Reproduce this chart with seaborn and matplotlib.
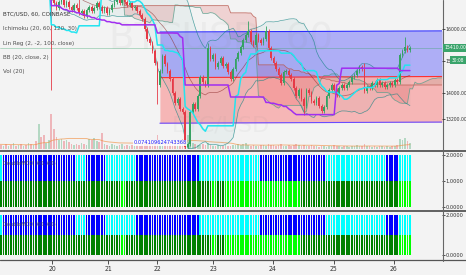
import numpy as np
import pandas as pd
import matplotlib
matplotlib.use("Agg")
import matplotlib.pyplot as plt
import matplotlib.transforms as mtransforms
from matplotlib.lines import Line2D
from matplotlib import font_manager as fm
from matplotlib.textpath import TextPath
import seaborn as sns

# ---------------- data (hourly BTC/USD, Coinbase) ----------------
# hidden history before the visible window (needed by the indicators)
close_pre = [19000, 19200, 19100, 19300, 19150, 18950, 19050, 18900, 18800, 18950,
             18700, 18850, 18600, 18750, 18550, 18650, 18400, 18550, 18300, 18450,
             18250, 18400, 18150, 18300, 18100, 18250, 18050, 18200, 17950, 18100,
             17900, 18050, 17850, 18000, 17800, 17950, 17850, 18000, 17900, 18050]
vol_pre = [5, 4, 6, 5, 4, 5, 6, 4, 5, 5, 4, 6, 5, 4, 5, 4, 5, 6, 4, 5,
           5, 4, 5, 6, 4, 5, 4, 5, 5, 4, 6, 5, 4, 5, 4, 5, 4, 5, 4, 4]

close_19 = [17900, 18100, 17800, 17950, 17700, 17850, 17600, 17750, 17500, 17650,
            17400, 17600, 17350, 17500, 17250, 17400, 17300, 17150, 17250, 17300]
close_20 = [16900, 16800, 16650, 16850, 16950, 16750, 16850, 16700, 16600, 16750,
            16650, 16500, 16550, 16400, 16600, 16700, 16550, 16650, 16800, 16700,
            16550, 16650, 16500, 16600, 16750, 16850, 16950, 16800, 16900, 16850,
            16750, 16800, 16650, 16700, 16550, 16450]
close_21 = [16300, 16000, 15700, 15550, 15300, 14950, 14250, 14700, 15150, 14900,
            14700, 14450, 14000, 13700, 13800, 13500, 13400]
close_22 = [12300, 12400, 13400, 13650, 13500, 13900, 14500, 14350, 14250, 15400,
            15050, 15200, 14800, 14950, 15100, 14850, 14900, 14650, 14450, 14750,
            15050, 15250, 15450, 15650, 15800, 15950, 15600]
close_23 = [15500, 15800, 15650, 15550, 15700, 15950, 15400, 15100, 14950, 14750,
            14550, 14300, 14650, 14700, 14550, 14450, 14150, 13900, 14100, 13800,
            13600, 14100, 14000, 13750, 13700, 13850, 13600, 13450, 13550, 13900]
close_24 = [14100, 14250, 14100, 13950, 14150, 14250, 14150, 14250, 14350, 14500,
            14550, 14700, 14800, 14750, 14050, 14200, 14150, 14300, 14250, 14400,
            14250, 14300, 14200, 14250, 14300, 14250, 14400, 14350, 15200, 15300,
            15450, 15350, 15410]
wick = 60
high_override = {31: 18100, 45: 17350, 82: 15550, 98: 16250, 105: 16100, 144: 14950, 160: 15750}
low_override = {20: 14100, 62: 13650, 73: 10400, 120: 13300}

volume = [4, 3, 5, 3, 4, 6, 3, 4, 5, 3, 4, 6, 5, 4, 8,
          25, 12, 14, 6, 9,
          35, 20, 12, 9, 10, 8, 9, 7,
          5, 4, 5, 4, 6, 5, 4,
          10, 9, 11, 8, 7,
          16, 5, 4, 3, 5, 4, 3, 4, 5, 3, 4,
          3, 4, 5, 4, 3,
          5, 6, 7, 8, 6, 9, 14, 8, 7, 6, 5, 6, 7, 8, 6, 9, 10, 18, 14, 10,
          6, 5, 4, 4, 5, 4, 6, 4, 3, 3, 4, 3, 3, 4, 3, 3, 4, 4, 5, 4, 5, 6, 4, 3, 4, 3, 3, 4,
          4, 3, 5, 4, 4, 3, 4, 5, 3, 3, 4, 3, 4, 5, 4, 3, 4, 3, 3, 4,
          3, 3, 2, 3, 3, 2, 3, 3, 4, 3, 3, 2, 3, 3, 2, 3, 3, 4, 3, 3,
          5, 3, 3, 2, 3, 2, 3, 3, 2, 3, 2, 3, 3, 4,
          10, 9, 11, 8, 6]

# DoubleMCD pane states (run lengths per bar)
upper_runs = [("#00ffff", 1), ("#0000ff", 29), ("#00ffff", 4), ("#0000ff", 8), ("#00ffff", 12),
              ("#0000ff", 25), ("#00ffff", 24), ("#0000ff", 26), ("#00ffff", 24), ("#0000ff", 5),
              ("#00ffff", 5)]
lower_runs = [("#008000", 48), ("#00ff00", 2), ("#008000", 34), ("#00ff00", 2), ("#008000", 3),
              ("#00ff00", 30), ("#008000", 39), ("#00ff00", 5)]

day_ticks = [20.3, 42.5, 62, 84.2, 107.6, 131.8, 155.6]
day_labels = ["20", "21", "22", "23", "24", "25", "26"]
price_ticks = [16000, 15000, 14000, 13200]
last_price = 15410
countdown = "30:08"
pearson_text = "0.074109624743368"
pane_title = "DoubleMCD (60, 60)"
legend_lines = ["BTC/USD, 60, COINBASE", "Ichimoku (20, 60, 120, 30)",
                "Lin Reg (2, -2, 100, close)", "BB (20, close, 2)", "Vol (20)"]

# ---------------- build frame ----------------
vis_close = close_19 + close_20 + close_21 + close_22 + close_23 + close_24
close = np.array(close_pre + vis_close, float)
n_pre = len(close_pre)
xs = np.arange(len(close)) - n_pre
opn = np.r_[close[0], close[:-1]]
high = np.maximum(opn, close) + wick
low = np.minimum(opn, close) - wick
for k, v in high_override.items():
    high[n_pre + k] = v
for k, v in low_override.items():
    low[n_pre + k] = v
df = pd.DataFrame(dict(x=xs, o=opn, h=high, l=low, c=close,
                       v=np.array(vol_pre + volume, float)))

def mid(n):
    return (df.h.rolling(n, min_periods=1).max() + df.l.rolling(n, min_periods=1).min()) / 2

df["tenkan"] = mid(20)
df["kijun"] = mid(60)
lead_a = ((df.tenkan + df.kijun) / 2).values
lead_b = mid(120).values
shift = 29
cloud_x = xs + shift
sma = df.c.rolling(20).mean()
sd = df.c.rolling(20).std(ddof=0)
df["bb_up"] = sma + 2 * sd
df["bb_lo"] = sma - 2 * sd
df["bb_mid"] = sma
df["vma"] = df.v.rolling(20, min_periods=1).mean()

# linear regression channel on last 100 bars
lr_x = xs[-100:]
lr_y = close[-100:]
slope, icpt = np.polyfit(lr_x, lr_y, 1)
resid = lr_y - (slope * lr_x + icpt)
dev = np.sqrt(np.mean(resid ** 2))
XMAX = 174.7
XMIN = -0.32
ch_x = np.array([lr_x[0], XMAX])
ch_mid = slope * ch_x + icpt
ch_up = ch_mid + 2 * dev
ch_lo = ch_mid - 2 * dev

# ---------------- fonts ----------------
sns.set_theme(style="white")
plt.rcParams["font.family"] = ["Liberation Sans", "DejaVu Sans"]


def find_narrow():
    cands = [("Liberation Sans Narrow", "normal"), ("Liberation Sans Narrow", "condensed"),
             ("DejaVu Sans", "condensed"), ("DejaVu Sans Condensed", "normal"),
             ("Noto Sans", "condensed"), ("Roboto Condensed", "normal"),
             ("Roboto", "condensed"), ("Open Sans", "condensed"),
             ("Open Sans Condensed", "normal")]
    for fam, st in cands:
        try:
            p = fm.findfont(fm.FontProperties(family=fam, stretch=st),
                            fallback_to_default=False)
        except Exception:
            continue
        low_p = p.lower()
        if "narrow" in low_p or "condensed" in low_p:
            return p
    return fm.findfont(fm.FontProperties(family="Liberation Sans"))


FONT_FILE = find_narrow()


def fprop(text, target_px, max_size=7.5):
    """font properties whose rendered width is about target_px."""
    probe = fm.FontProperties(fname=FONT_FILE, size=10)
    w_pt = TextPath((0, 0), text, size=10, prop=probe).get_extents().width
    w_px = w_pt * 100 / 72
    size = min(max_size, 10 * target_px / max(w_px, 1e-6))
    return fm.FontProperties(fname=FONT_FILE, size=size)


# ---------------- figure ----------------
BG = "#f3f3f3"
W, H = 466, 275
fig = plt.figure(figsize=(W / 100, H / 100), dpi=100, facecolor=BG)


def rect(top, bottom, right=442):
    return [0, 1 - bottom / H, right / W, (bottom - top) / H]


axv = fig.add_axes(rect(0, 149), facecolor=BG)
ax = fig.add_axes(rect(0, 149), facecolor="none", sharex=axv)
p1 = fig.add_axes(rect(151, 209), facecolor=BG, sharex=axv)
p2 = fig.add_axes(rect(212, 260), facecolor=BG, sharex=axv)
ax.set_zorder(2)

GREEN = "#35a263"
RED = "#e53a47"
up = (df.c >= df.o).values
cols = np.where(up, GREEN, RED)

# volume
axv.bar(df.x, df.v, width=0.65, color=cols, alpha=0.33, linewidth=0)
sns.lineplot(x=df.x, y=df.vma, ax=axv, color="#f28c3a", lw=0.7, alpha=0.6)
axv.set_ylim(0, 149)
axv.set_xlabel("")
axv.set_ylabel("")

# watermark
ax.text(0.5, 0.74, "BTCUSD, 60", transform=ax.transAxes, ha="center", va="center",
        fontsize=27, color="#888888", alpha=0.07, family=["DejaVu Sans"])
ax.text(0.5, 0.16, "BTC/USD", transform=ax.transAxes, ha="center", va="center",
        fontsize=16, color="#888888", alpha=0.07, family=["DejaVu Sans"])

# ichimoku cloud
ax.fill_between(cloud_x, lead_a, lead_b, where=lead_a >= lead_b, color="#2e9e6a",
                alpha=0.13, lw=0, zorder=1, interpolate=True)
ax.fill_between(cloud_x, lead_a, lead_b, where=lead_a < lead_b, color="#e04040",
                alpha=0.18, lw=0, zorder=1, interpolate=True)
ax.plot(cloud_x, lead_a, color="#5a9e8c", lw=0.6, alpha=0.8, zorder=2)
ax.plot(cloud_x, lead_b, color="#b85a50", lw=0.6, alpha=0.8, zorder=2)

# lin reg channel
ax.fill_between(ch_x, ch_mid, ch_up, color="#2222ff", alpha=0.33, lw=0, zorder=1.5)
ax.fill_between(ch_x, ch_lo, ch_mid, color="#ff2a2a", alpha=0.3, lw=0, zorder=1.5)
ax.plot(ch_x, ch_up, color="#2a2aff", lw=0.8, zorder=3)
ax.plot(ch_x, ch_lo, color="#6a4cff", lw=0.8, zorder=3)
ax.plot(ch_x, ch_mid, color="#ff3030", lw=0.8, zorder=3)

# bollinger
ax.fill_between(df.x, df.bb_lo, df.bb_up, color="#198787", alpha=0.05, lw=0, zorder=1)
ax.plot(df.x, df.bb_up, color="#138484", lw=0.5, alpha=0.7, zorder=3)
ax.plot(df.x, df.bb_lo, color="#138484", lw=0.5, alpha=0.7, zorder=3)
ax.plot(df.x, df.bb_mid, color="#872323", lw=0.5, alpha=0.6, zorder=3)

# candles
ax.vlines(df.x, df.l, df.h, colors=cols, lw=0.6, zorder=4)
body = (df.c - df.o).abs().clip(lower=20)
ax.bar(df.x, body, bottom=np.minimum(df.o, df.c), width=0.65, color=cols, lw=0, zorder=4)

# tenkan / kijun
sns.lineplot(x=df.x, y=df.tenkan, ax=ax, color="#22e4f0", lw=1.1, zorder=5)
sns.lineplot(x=df.x, y=df.kijun, ax=ax, color="#a12ef0", lw=1.1, zorder=5)
ax.set_xlabel("")
ax.set_ylabel("")

# last price line
ax.axhline(last_price, color="#3aa46b", lw=0.5, alpha=0.5, zorder=3)

ax.set_xlim(XMIN, XMAX)
ax.set_ylim(12250, 16906)

# legend text
leg_fp = fprop(legend_lines[0], 67)
for k, t in enumerate(legend_lines):
    ax.text(3 / 442, 1 - (14 + 14.5 * k) / 149, t, transform=ax.transAxes, ha="left",
            va="center", fontproperties=leg_fp,
            color="#333333" if k == 0 else "#505050", zorder=8)

# pearson label
ax.text(lr_x[0], 12440, pearson_text, ha="center", va="center",
        fontproperties=fprop(pearson_text, 52), color="#1a1aff", zorder=8,
        bbox=dict(boxstyle="square,pad=0.1", fc="white", ec="none", alpha=0.85))

# axes cosmetics
tick_fp = fprop("16000.00", 21)
small_fp = fprop("2.0000", 17)
for a in (ax, p1, p2):
    a.yaxis.tick_right()
    a.tick_params(axis="y", which="both", right=True, left=False, labelright=True,
                  labelleft=False, length=1.8, width=0.6, pad=0.6, colors="#333333")
    a.tick_params(axis="x", bottom=False, labelbottom=False)
    for s in a.spines.values():
        s.set_visible(False)
    a.grid(False)
axv.set_xticks([])
axv.set_yticks([])
for s in axv.spines.values():
    s.set_visible(False)

ax.set_yticks(price_ticks)
ax.set_yticklabels([f"{v:.2f}" for v in price_ticks], fontproperties=tick_fp)
blend = mtransforms.blended_transform_factory(ax.transAxes, ax.transData)
ax.text(1.0 + 3.2 / 442, 17000, "17000.00", transform=blend, ha="left", va="center",
        fontproperties=tick_fp, color="#333333", clip_on=False)
ax.text(1.0 + 2.2 / 442, last_price, f"{last_price:.2f}", transform=blend, ha="left",
        va="center", fontproperties=tick_fp, color="white", zorder=10, clip_on=False,
        bbox=dict(boxstyle="square,pad=0.3", fc="#3aa46b", ec="none"))
ax.text(1.0 + 10 / 442, 15031, countdown, transform=blend, ha="left", va="center",
        fontproperties=fprop(countdown, 12), color="white", zorder=10, clip_on=False,
        bbox=dict(boxstyle="square,pad=0.35", fc="#3aa46b", ec="none"))

# DoubleMCD panes
upper_cols = [c for c, n in upper_runs for _ in range(n)]
lower_cols = [c for c, n in lower_runs for _ in range(n)]
xv = np.arange(len(vis_close))
title_fp = fprop(pane_title, 52)
for pax in (p1, p2):
    pax.bar(xv, 1, bottom=1, width=0.65, color=upper_cols, lw=0)
    pax.bar(xv, 1, bottom=0, width=0.65, color=lower_cols, lw=0)
p1.set_ylim(-2 / 26, 2 + 4 / 26)
p2.set_ylim(-5 / 20, 2 + 3 / 20)
p1.set_yticks([0, 1, 2])
p1.set_yticklabels(["0.0000", "1.0000", "2.0000"], fontproperties=small_fp)
p2.set_yticks([0, 2])
p2.set_yticklabels(["0.0000", "2.0000"], fontproperties=small_fp)
p1.text(3 / 442, 0.79, pane_title, transform=p1.transAxes, fontproperties=title_fp,
        color="#505050", alpha=0.9, va="center")
p2.text(3 / 442, 0.73, pane_title, transform=p2.transAxes, fontproperties=title_fp,
        color="#505050", alpha=0.9, va="center")

p2.set_xticks(day_ticks)
p2.set_xticklabels(day_labels, fontproperties=fprop("20", 7))
p2.tick_params(axis="x", bottom=True, labelbottom=True, length=3, width=0.6, pad=1.5,
               colors="#333333")
ax.set_xlim(XMIN, XMAX)

# pane separators / axis lines
for ypx, lw in ((150.5, 1.3), (210.5, 1.3), (260.3, 0.9)):
    fig.add_artist(Line2D([0, 1], [1 - ypx / H] * 2, color="#555555", lw=lw))
fig.add_artist(Line2D([442.5 / W] * 2, [1 - 261 / H, 1], color="#666666", lw=0.8))

fig.savefig("out.png", dpi=100, facecolor=BG)
